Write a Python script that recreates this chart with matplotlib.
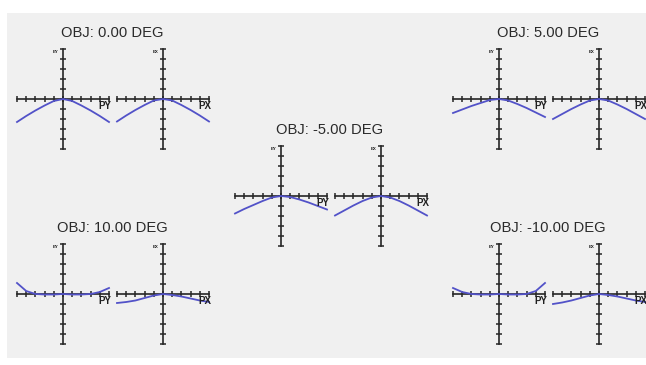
#!/usr/bin/env python3
"""
Transverse ray fan plot for five object field angles.
Each field shows the tangential (PY) and sagittal (PX) fans side by side.
"""

import matplotlib
matplotlib.use('Agg')
import matplotlib.pyplot as plt
from matplotlib.patches import Rectangle

plt.rcParams['font.family'] = ['Liberation Sans', 'DejaVu Sans']

# normalised pupil coordinate along each fan
pupil = [-1.0, -0.8, -0.6, -0.4, -0.2, 0.0, 0.2, 0.4, 0.6, 0.8, 1.0]

field_titles = ['OBJ: 0.00 DEG', 'OBJ: -5.00 DEG', 'OBJ: 5.00 DEG',
                'OBJ: 10.00 DEG', 'OBJ: -10.00 DEG']

# tangential fan (EY vs PY), scaled to the plot maximum
ey_0 = [-0.46, -0.34, -0.23, -0.13, -0.04, 0.0, -0.04, -0.13, -0.23, -0.34, -0.46]
ey_m5 = [-0.35, -0.26, -0.18, -0.10, -0.03, 0.0, -0.02, -0.07, -0.13, -0.20, -0.27]
ey_p5 = [-0.28, -0.21, -0.14, -0.08, -0.02, 0.0, -0.03, -0.10, -0.18, -0.27, -0.36]
ey_p10 = [0.22, 0.06, 0.0, -0.01, -0.01, 0.0, -0.01, -0.01, 0.0, 0.04, 0.12]
ey_m10 = [0.12, 0.04, 0.0, -0.01, -0.01, 0.0, -0.01, -0.01, 0.0, 0.06, 0.22]

# sagittal fan (EX vs PX)
ex_0 = [-0.45, -0.33, -0.22, -0.12, -0.03, 0.0, -0.03, -0.12, -0.22, -0.33, -0.45]
ex_m5 = [-0.39, -0.29, -0.19, -0.10, -0.03, 0.0, -0.03, -0.10, -0.19, -0.29, -0.39]
ex_p5 = [-0.40, -0.30, -0.20, -0.11, -0.03, 0.0, -0.03, -0.11, -0.20, -0.30, -0.40]
ex_p10 = [-0.18, -0.16, -0.13, -0.08, -0.03, 0.0, -0.02, -0.05, -0.09, -0.13, -0.16]
ex_m10 = [-0.20, -0.17, -0.13, -0.08, -0.03, 0.0, -0.02, -0.05, -0.09, -0.13, -0.16]

ey_fans = [ey_0, ey_m5, ey_p5, ey_p10, ey_m10]
ex_fans = [ex_0, ex_m5, ex_p5, ex_p10, ex_m10]

W, H = 646, 365
fig = plt.figure(figsize=(W / 100, H / 100), dpi=100)
fig.patch.set_facecolor('white')

# grey plot window, kept behind every axes
fig.patches.append(Rectangle((7 / W, 1 - 358 / H), 1 - 7 / W, (358 - 13) / H,
                             transform=fig.transFigure, facecolor='#f0f0f0',
                             edgecolor='none', zorder=-10))

# pixel centre of the PY fan for each field (PX fan sits 100 px to the right)
centres = [(63, 99), (281, 196), (499, 99), (63, 294), (499, 294)]
HALF_W, HALF_H = 46, 50  # pixels per unit pupil / unit aberration
LIM = 1.15

ticks = [-1.0, -0.8, -0.6, -0.4, -0.2, 0.0, 0.2, 0.4, 0.6, 0.8, 1.0]
axis_col = '#262626'
curve_col = '#5252c8'


def fan_axes(cx, cy):
    w = 2 * LIM * HALF_W
    h = 2 * LIM * HALF_H
    ax = fig.add_axes([(cx - w / 2) / W, 1 - (cy + h / 2) / H, w / W, h / H])
    ax.set_xlim(-LIM, LIM)
    ax.set_ylim(-LIM, LIM)
    ax.patch.set_alpha(0)
    for s in ['top', 'right']:
        ax.spines[s].set_visible(False)
    for s in ['left', 'bottom']:
        ax.spines[s].set_position(('data', 0))
        ax.spines[s].set_bounds(-1, 1)
        ax.spines[s].set_color(axis_col)
        ax.spines[s].set_linewidth(1.2)
    ax.set_xticks(ticks)
    ax.set_yticks(ticks)
    ax.tick_params(direction='inout', length=5, width=1.1, color=axis_col,
                   labelbottom=False, labelleft=False)
    return ax


for title, (cx, cy), ey, ex in zip(field_titles, centres, ey_fans, ex_fans):
    fig.text((cx + 49) / W, 1 - 33 / H - (cy - 99) / H, title, ha='center',
             va='center', fontsize=10.6, color='#2a2a2a')

    for dx, vals, lab, elab in [(0, ey, 'PY', 'EY'), (100, ex, 'PX', 'EX')]:
        ax = fan_axes(cx + dx, cy)
        ax.plot(pupil, vals, color=curve_col, lw=1.3, zorder=3, clip_on=False)
        ax.text(1.06, -0.03, lab, ha='right', va='top', fontsize=7,
                fontweight='bold', color='#202020')
        ax.text(-0.1, 0.95, elab, ha='right', va='center', fontsize=3.2,
                fontweight='bold', color='#202020')

plt.savefig('out.png', dpi=100)
